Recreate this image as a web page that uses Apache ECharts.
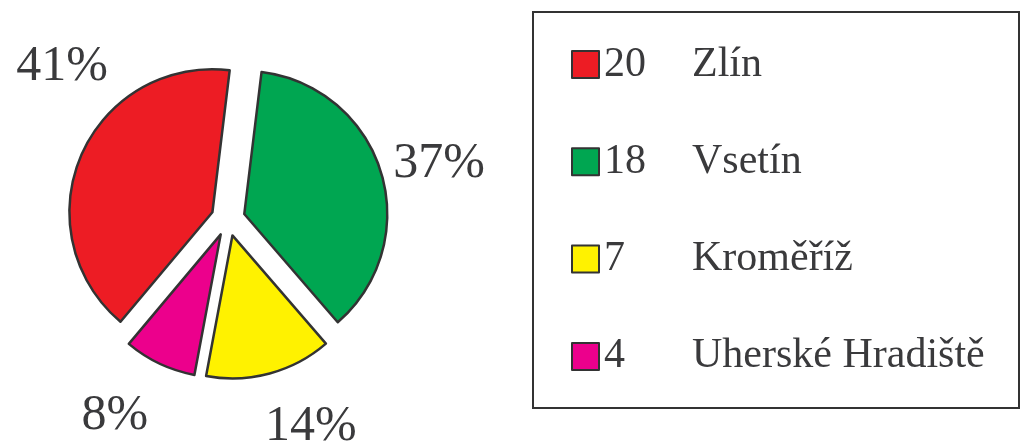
<!DOCTYPE html>
<html lang="cs">
<head>
    <meta charset="UTF-8">
    <title>Zlínský kraj</title>
    <script src="https://cdn.jsdelivr.net/npm/echarts@6/dist/echarts.min.js"></script>
    <style>
        html, body { margin: 0; padding: 0; background: #fff; }
    </style>
</head>
<body>
        <div id="main" style="width: 1020px;height:444px;"></div>
        <script type="text/javascript">
            // data
            var names = ['Zlín', 'Vsetín', 'Kroměříž', 'Uherské Hradiště'];
            var values = [20, 18, 7, 4];
            var colors = ['#ED1C24', '#00A651', '#FFF200', '#EC008C'];
            // small nudges of the percent labels (dx, dy)
            var labelShift = [[50, -80], [-12, -3], [-15, 34], [2, 34]];

            var textColor = '#3a3a3c';
            var serif = 'Liberation Serif';

            var pieData = [];
            for (var i = 0; i < names.length; i++) {
                pieData.push({ name: names[i], value: values[i], selected: true, itemStyle: { color: colors[i] } });
            }

            var myChart = echarts.init(document.getElementById('main'));
            var option = {
                animation: false,
                legend: {
                    orient: 'vertical',
                    left: 533,
                    top: 12,
                    padding: [31.5, 25, 30.6, 38],
                    itemGap: 55.3,
                    itemWidth: 27,
                    itemHeight: 27,
                    icon: 'rect',
                    selectedMode: false,
                    borderColor: '#333',
                    borderWidth: 2,
                    data: names,
                    formatter: function (name) {
                        var idx = names.indexOf(name);
                        return '{v|' + values[idx] + '}{n|' + name + '}';
                    },
                    textStyle: {
                        rich: {
                            v: { width: 88, fontFamily: serif, fontSize: 42, lineHeight: 44, color: textColor },
                            n: { width: 302, fontFamily: serif, fontSize: 42, lineHeight: 44, color: textColor }
                        }
                    }
                },
                series: [
                    {
                        type: 'pie',
                        center: [228, 219],
                        radius: 143,
                        startAngle: 230,
                        selectedMode: 'multiple',
                        selectedOffset: 17,
                        avoidLabelOverlap: false,
                        emphasis: { disabled: true },
                        itemStyle: { borderColor: '#333', borderWidth: 2.5 },
                        label: {
                            position: 'outside',
                            fontFamily: serif,
                            fontSize: 50,
                            color: textColor,
                            formatter: function (p) { return Math.round(p.percent) + '%'; }
                        },
                        labelLine: { show: false, length: 20, length2: 0 },
                        labelLayout: function (p) {
                            var s = labelShift[p.dataIndex];
                            return { dx: s[0], dy: s[1] };
                        },
                        data: pieData
                    }
                ]
            };
            myChart.setOption(option);
        </script>

</body>
</html>
